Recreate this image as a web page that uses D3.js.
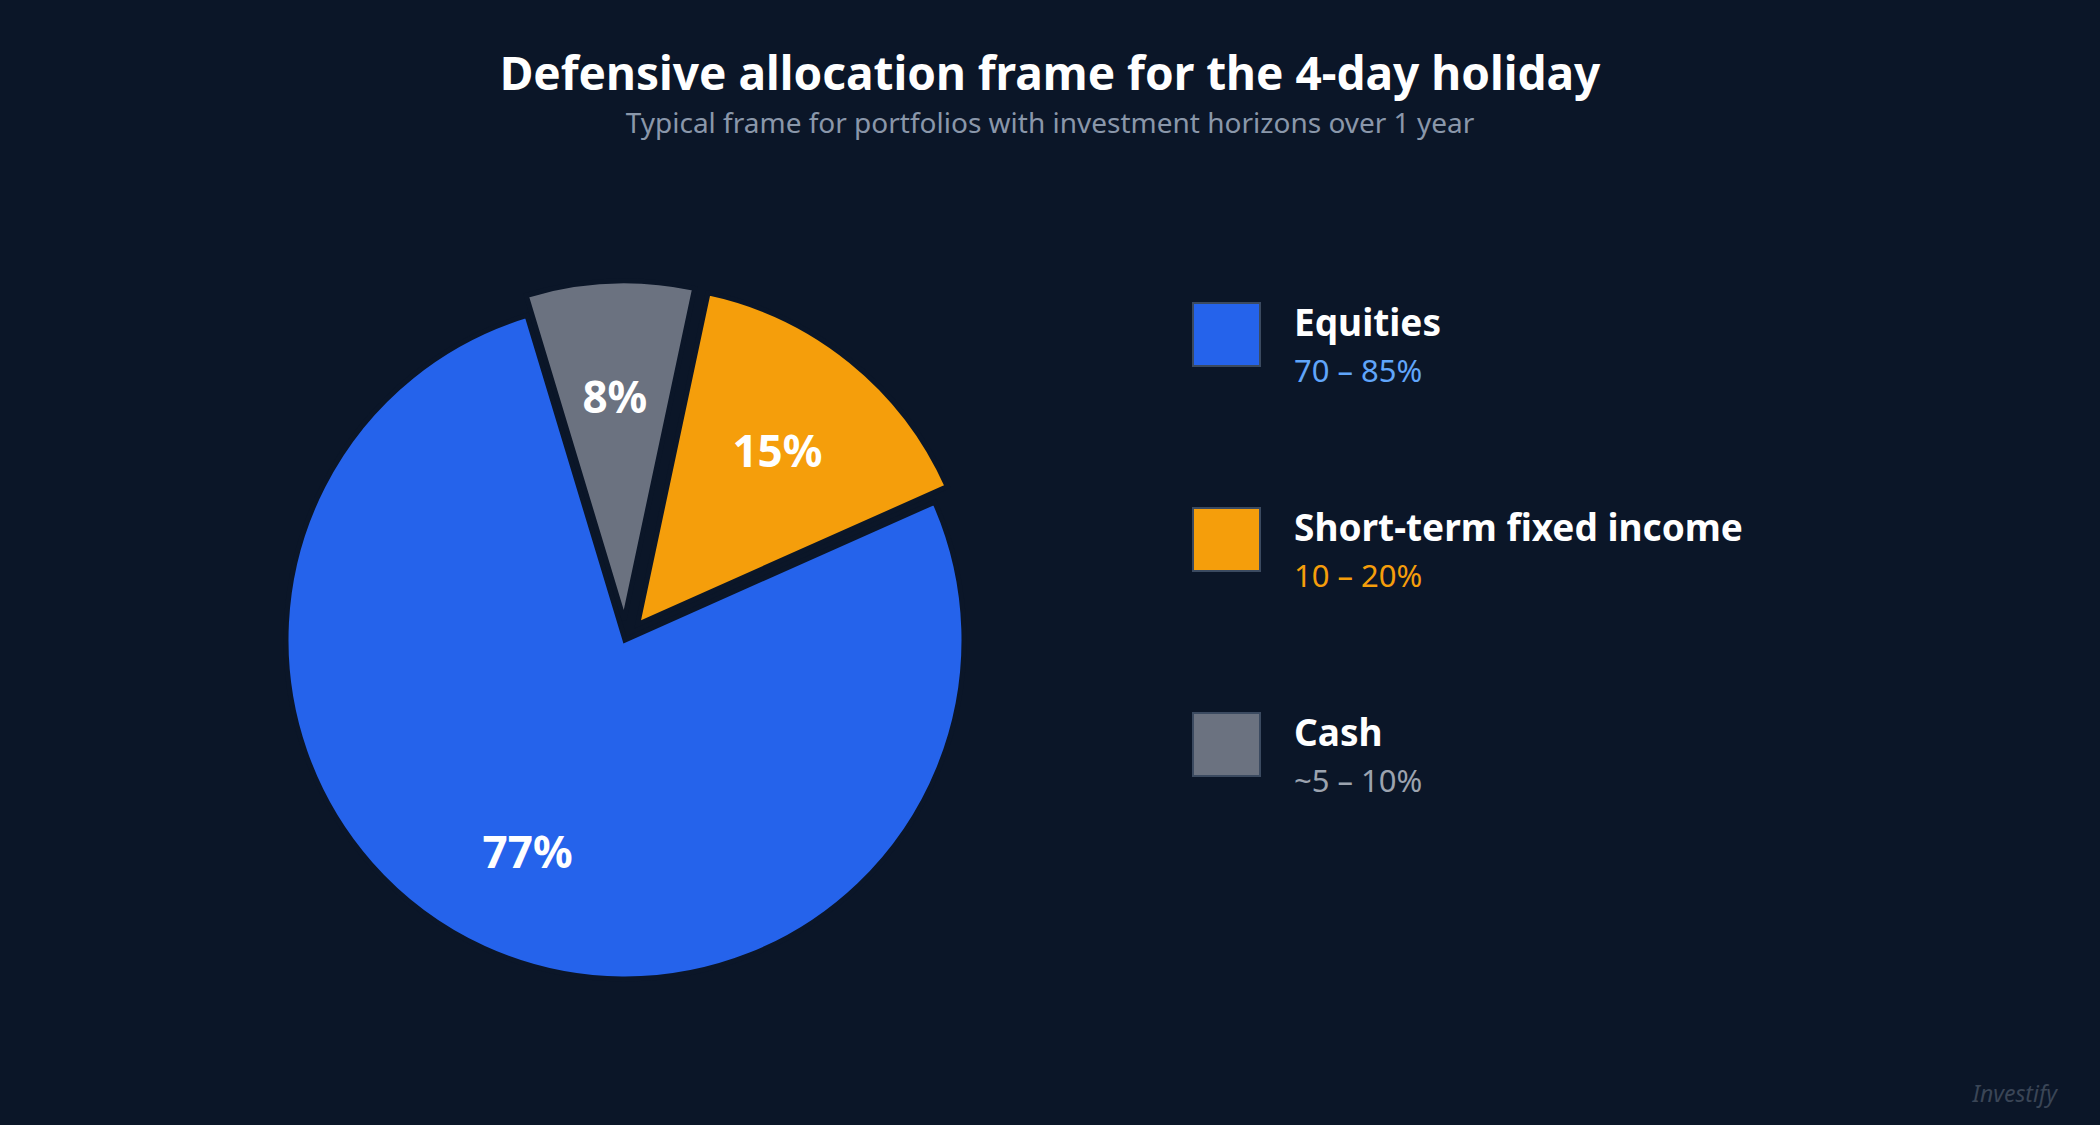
<!DOCTYPE html>
<html>
<head>
<meta charset="utf-8">
<script src="https://cdn.jsdelivr.net/npm/d3@7"></script>
<style>
  body { margin: 0; background: #0b1628; }
  svg { display: block; font-family: "Noto Sans", "Open Sans", sans-serif; }
</style>
</head>
<body>
<script>
// data
let categories = ["Equities", "Short-term fixed income", "Cash"];
let shares = [77, 15, 8];
let ranges = ["70 – 85%", "10 – 20%", "~5 – 10%"];
let exploded = [false, true, true];
// clockwise drawing order, starting at the top-right
let drawOrder = ["Short-term fixed income", "Equities", "Cash"];

let W = 2100, H = 1125;
let bg = "#0b1628";
let sliceColors = ["#2563eb", "#f59e0b", "#6b7280"];
let rangeColors = ["#60a5fa", "#f59e0b", "#9ca3af"];

let svg = d3.select("body").append("svg")
    .attr("width", W)
    .attr("height", H)
    .style("background", bg);

// title
svg.append("text")
    .attr("x", W / 2).attr("y", 90)
    .attr("text-anchor", "middle")
    .attr("fill", "#ffffff")
    .attr("font-size", 46).attr("font-weight", "bold")
    .text("Defensive allocation frame for the 4-day holiday");

svg.append("text")
    .attr("x", W / 2).attr("y", 133)
    .attr("text-anchor", "middle")
    .attr("fill", "#8a97aa")
    .attr("font-size", 28)
    .text("Typical frame for portfolios with investment horizons over 1 year");

// pie
let cx = 625, cy = 640, r = 339, offset = 20;
let rows = categories.map((c, i) => ({ name: c, value: shares[i], color: sliceColors[i], explode: exploded[i] }));

let pie = d3.pie()
    .value(d => d.value)
    .sort((a, b) => drawOrder.indexOf(a.name) - drawOrder.indexOf(b.name))
    .startAngle(12 * Math.PI / 180)
    .endAngle(12 * Math.PI / 180 + 2 * Math.PI);

let arc = d3.arc().innerRadius(0).outerRadius(r);
let labelArc = d3.arc().innerRadius(r * 0.69).outerRadius(r * 0.69);

let g = svg.append("g").attr("transform", `translate(${cx},${cy})`);

let slices = g.selectAll("g.slice")
    .data(pie(rows))
    .join("g")
    .attr("class", "slice")
    .attr("transform", d => {
        if (!d.data.explode) return null;
        let a = (d.startAngle + d.endAngle) / 2;
        return `translate(${Math.sin(a) * offset},${-Math.cos(a) * offset})`;
    });

slices.append("path")
    .attr("d", arc)
    .attr("fill", d => d.data.color)
    .attr("stroke", bg)
    .attr("stroke-width", 5);

slices.append("text")
    .attr("transform", d => {
        let p = labelArc.centroid(d);
        let k = d.data.explode ? 0.95 : 1;
        return `translate(${p[0] * k},${p[1] * k})`;
    })
    .attr("text-anchor", "middle")
    .attr("dy", "0.35em")
    .attr("fill", "#ffffff")
    .attr("font-size", 44).attr("font-weight", "bold")
    .text(d => d.data.value + "%");

// legend
let legend = svg.selectAll("g.legend")
    .data(rows)
    .join("g")
    .attr("class", "legend")
    .attr("transform", (d, i) => `translate(1193,${303 + i * 205})`);

legend.append("rect")
    .attr("width", 67).attr("height", 63)
    .attr("fill", d => d.color)
    .attr("stroke", "#3b4a60")
    .attr("stroke-width", 2);

legend.append("text")
    .attr("x", 101).attr("y", 33)
    .attr("fill", "#ffffff")
    .attr("font-size", 37).attr("font-weight", "bold")
    .text(d => d.name);

legend.append("text")
    .attr("x", 101).attr("y", 79)
    .attr("fill", (d, i) => rangeColors[i])
    .attr("font-size", 31)
    .text((d, i) => ranges[i]);

// watermark
svg.append("text")
    .attr("x", 2057).attr("y", 1102)
    .attr("text-anchor", "end")
    .attr("fill", "#3a4556")
    .attr("font-size", 23).attr("font-style", "italic")
    .text("Investify");
</script>
</body>
</html>
